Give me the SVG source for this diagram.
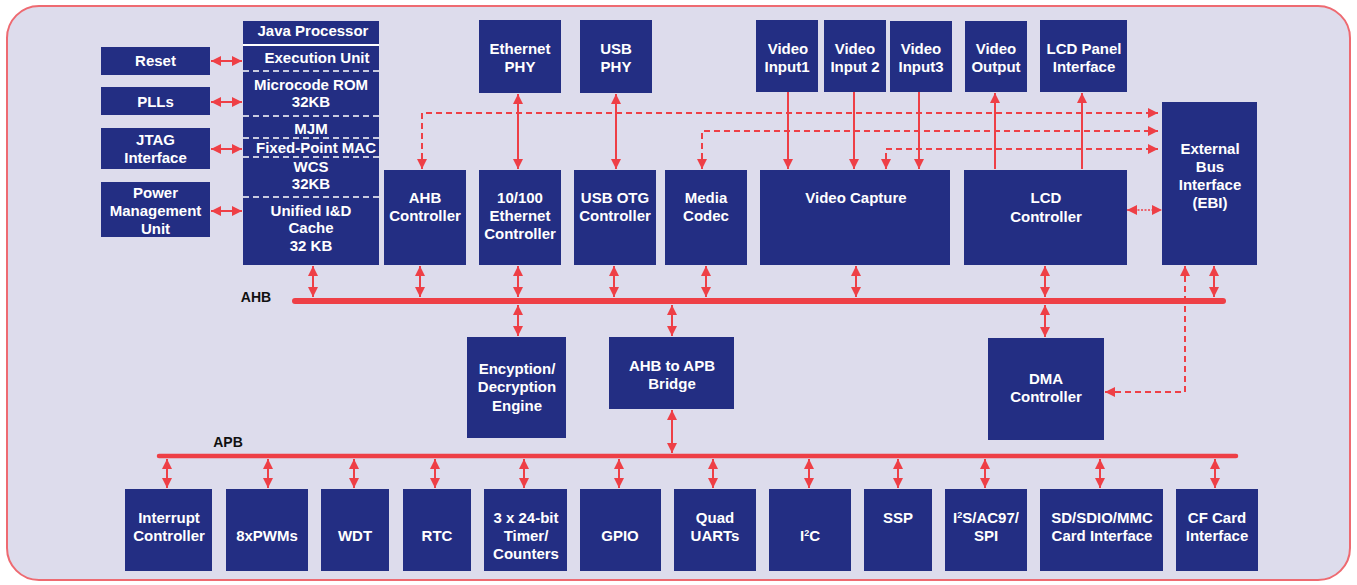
<svg xmlns="http://www.w3.org/2000/svg" width="1357" height="585" viewBox="0 0 1357 585">
<style>
.box{fill:#232e83}
.t{font-family:"Liberation Sans",Arial,sans-serif;font-weight:bold;font-size:15px;fill:#ffffff;text-anchor:middle}
.lbl{font-family:"Liberation Sans",Arial,sans-serif;font-weight:bold;font-size:14px;fill:#111111;text-anchor:middle}
.c{stroke:#ee3f46;stroke-width:2;fill:none}
.d{stroke:#ee3f46;stroke-width:2;fill:none;stroke-dasharray:6 4}
.dot{stroke:#ee3f46;stroke-width:1.5;fill:none;stroke-dasharray:2 1.5}
.bus{stroke:#ee3f46;fill:none;stroke-linecap:round}
.sep{stroke:#ffffff;stroke-width:1.5;stroke-dasharray:6 4}
</style>
<defs>
<marker id="ah" viewBox="0 0 10 10" refX="10" refY="5" markerWidth="10" markerHeight="10" markerUnits="userSpaceOnUse" orient="auto-start-reverse">
<path d="M0,0 L10,5 L0,10 z" fill="#ee3f46"/>
</marker>
</defs>
<rect x="0" y="0" width="1357" height="585" fill="#ffffff"/>
<rect x="7" y="6" width="1343" height="574" rx="32" fill="#dddcec" stroke="#ee6a71" stroke-width="2"/>

<g id="connectors">
<g marker-start="url(#ah)" marker-end="url(#ah)">
<line class="c" x1="211" y1="61" x2="242" y2="61"/>
<line class="c" x1="211" y1="102" x2="242" y2="102"/>
<line class="c" x1="211" y1="149" x2="242" y2="149"/>
<line class="c" x1="211" y1="211" x2="242" y2="211"/>
<line class="c" x1="518" y1="94" x2="518" y2="169"/>
<line class="c" x1="616" y1="94" x2="616" y2="169"/>
<path class="d" d="M422,169 V113 H1158"/>
<path class="d" d="M702,169 V131 H1158"/>
<path class="d" d="M886,169 V149 H1158"/>
<path class="dot" d="M1127,210 H1162"/>
<path class="d" d="M1185,266 V392 H1105"/>
<line class="c" x1="313" y1="266" x2="313" y2="297"/>
<line class="c" x1="420" y1="266" x2="420" y2="297"/>
<line class="c" x1="518" y1="266" x2="518" y2="297"/>
<line class="c" x1="614" y1="266" x2="614" y2="297"/>
<line class="c" x1="706" y1="266" x2="706" y2="297"/>
<line class="c" x1="856" y1="266" x2="856" y2="297"/>
<line class="c" x1="1045" y1="266" x2="1045" y2="297"/>
<line class="c" x1="1214" y1="266" x2="1214" y2="297"/>
<line class="c" x1="518" y1="305" x2="518" y2="336"/>
<line class="c" x1="672" y1="305" x2="672" y2="336"/>
<line class="c" x1="1045" y1="305" x2="1045" y2="337"/>
<line class="c" x1="672" y1="410" x2="672" y2="453"/>
<line class="c" x1="167" y1="459" x2="167" y2="488"/>
<line class="c" x1="268" y1="459" x2="268" y2="488"/>
<line class="c" x1="354" y1="459" x2="354" y2="488"/>
<line class="c" x1="435" y1="459" x2="435" y2="488"/>
<line class="c" x1="524" y1="459" x2="524" y2="488"/>
<line class="c" x1="619" y1="459" x2="619" y2="488"/>
<line class="c" x1="713" y1="459" x2="713" y2="488"/>
<line class="c" x1="809" y1="459" x2="809" y2="488"/>
<line class="c" x1="898" y1="459" x2="898" y2="488"/>
<line class="c" x1="985" y1="459" x2="985" y2="488"/>
<line class="c" x1="1100" y1="459" x2="1100" y2="488"/>
<line class="c" x1="1215" y1="459" x2="1215" y2="488"/>
</g>
<g marker-end="url(#ah)">
<line class="c" x1="788" y1="92" x2="788" y2="169"/>
<line class="c" x1="854" y1="92" x2="854" y2="169"/>
<line class="c" x1="919" y1="92" x2="919" y2="169"/>
<line class="c" x1="995" y1="169" x2="995" y2="93"/>
<line class="c" x1="1082" y1="169" x2="1082" y2="93"/>
</g>
<line class="bus" x1="295" y1="301" x2="1223" y2="301" stroke-width="6"/>
<line class="bus" x1="159" y1="456" x2="1236" y2="456" stroke-width="4.5"/>
<text class="lbl" x="256" y="302">AHB</text>
<text class="lbl" x="228" y="447">APB</text>
</g>

<g id="reset"><rect class="box" x="101" y="47" width="109" height="28"/><text class="t" x="155.5" y="66">Reset</text></g>
<g id="plls"><rect class="box" x="101" y="87" width="109" height="28"/><text class="t" x="155.5" y="107">PLLs</text></g>
<g id="jtag"><rect class="box" x="101" y="128" width="109" height="41"/><text class="t" x="155.5" y="145">JTAG</text><text class="t" x="155.5" y="163">Interface</text></g>
<g id="pmu"><rect class="box" x="101" y="182" width="109" height="55"/><text class="t" x="155.5" y="198">Power</text><text class="t" x="155.5" y="216">Management</text><text class="t" x="155.5" y="234">Unit</text></g>

<g id="java">
<rect class="box" x="243" y="21" width="136" height="244"/>
<line x1="243" y1="45" x2="379" y2="45" stroke="#ffffff" stroke-width="2"/>
<line class="sep" x1="243" y1="71" x2="379" y2="71"/>
<line class="sep" x1="243" y1="116" x2="379" y2="116"/>
<line class="sep" x1="243" y1="138" x2="379" y2="138"/>
<line class="sep" x1="243" y1="157" x2="379" y2="157"/>
<line class="sep" x1="243" y1="197" x2="379" y2="197"/>
<text class="t" x="313" y="36">Java Processor</text>
<text class="t" x="317" y="63">Execution Unit</text>
<text class="t" x="311" y="90">Microcode ROM</text>
<text class="t" x="311" y="107">32KB</text>
<text class="t" x="311" y="134">MJM</text>
<text class="t" x="316" y="153">Fixed-Point MAC</text>
<text class="t" x="311" y="172">WCS</text>
<text class="t" x="311" y="189">32KB</text>
<text class="t" x="311" y="216">Unified I&amp;D</text>
<text class="t" x="311" y="233">Cache</text>
<text class="t" x="311" y="251">32 KB</text>
</g>

<g id="eth-phy"><rect class="box" x="479" y="20" width="82" height="73"/><text class="t" x="520" y="54">Ethernet</text><text class="t" x="520" y="72">PHY</text></g>
<g id="usb-phy"><rect class="box" x="580" y="20" width="72" height="73"/><text class="t" x="616" y="54">USB</text><text class="t" x="616" y="72">PHY</text></g>
<g id="vin1"><rect class="box" x="756" y="20" width="62" height="72"/><text class="t" x="788" y="54">Video</text><text class="t" x="787" y="72">Input1</text></g>
<g id="vin2"><rect class="box" x="824" y="20" width="62" height="72"/><text class="t" x="855" y="54">Video</text><text class="t" x="855" y="72">Input 2</text></g>
<g id="vin3"><rect class="box" x="890" y="21" width="62" height="71"/><text class="t" x="921" y="54">Video</text><text class="t" x="921" y="72">Input3</text></g>
<g id="vout"><rect class="box" x="965" y="21" width="62" height="71"/><text class="t" x="996" y="54">Video</text><text class="t" x="996" y="72">Output</text></g>
<g id="lcd-panel"><rect class="box" x="1040" y="20" width="87" height="72"/><text class="t" x="1084" y="54">LCD Panel</text><text class="t" x="1084" y="72">Interface</text></g>

<g id="ahb-ctrl"><rect class="box" x="384" y="170" width="82" height="95"/><text class="t" x="425" y="203">AHB</text><text class="t" x="425" y="221">Controller</text></g>
<g id="eth-ctrl"><rect class="box" x="479" y="170" width="82" height="95"/><text class="t" x="520" y="203">10/100</text><text class="t" x="520" y="221">Ethernet</text><text class="t" x="520" y="239">Controller</text></g>
<g id="usb-otg"><rect class="box" x="574" y="170" width="82" height="95"/><text class="t" x="615" y="203">USB OTG</text><text class="t" x="615" y="221">Controller</text></g>
<g id="media"><rect class="box" x="665" y="170" width="82" height="95"/><text class="t" x="706" y="203">Media</text><text class="t" x="706" y="221">Codec</text></g>
<g id="vcap"><rect class="box" x="760" y="170" width="190" height="95"/><text class="t" x="856" y="203">Video Capture</text></g>
<g id="lcd-ctrl"><rect class="box" x="964" y="170" width="163" height="95"/><text class="t" x="1046" y="203">LCD</text><text class="t" x="1046" y="222">Controller</text></g>
<g id="ebi"><rect class="box" x="1162" y="102" width="95" height="163"/><text class="t" x="1210" y="154">External</text><text class="t" x="1210" y="172">Bus</text><text class="t" x="1210" y="190">Interface</text><text class="t" x="1210" y="208">(EBI)</text></g>

<g id="crypto"><rect class="box" x="467" y="337" width="99" height="101"/><text class="t" x="517" y="374">Encyption/</text><text class="t" x="517" y="392">Decryption</text><text class="t" x="517" y="411">Engine</text></g>
<g id="bridge"><rect class="box" x="609" y="337" width="125" height="72"/><text class="t" x="672" y="371">AHB to APB</text><text class="t" x="672" y="389">Bridge</text></g>
<g id="dma"><rect class="box" x="988" y="338" width="116" height="102"/><text class="t" x="1046" y="384">DMA</text><text class="t" x="1046" y="402">Controller</text></g>

<g id="intc"><rect class="box" x="125" y="489" width="87" height="82"/><text class="t" x="169" y="523">Interrupt</text><text class="t" x="169" y="541">Controller</text></g>
<g id="pwm"><rect class="box" x="226" y="489" width="82" height="82"/><text class="t" x="267" y="541">8xPWMs</text></g>
<g id="wdt"><rect class="box" x="321" y="489" width="68" height="82"/><text class="t" x="355" y="541">WDT</text></g>
<g id="rtc"><rect class="box" x="403" y="489" width="68" height="82"/><text class="t" x="437" y="541">RTC</text></g>
<g id="timer"><rect class="box" x="484" y="489" width="83" height="82"/><text class="t" x="526" y="523">3 x 24-bit</text><text class="t" x="526" y="541">Timer/</text><text class="t" x="526" y="559">Counters</text></g>
<g id="gpio"><rect class="box" x="580" y="489" width="81" height="82"/><text class="t" x="620" y="541">GPIO</text></g>
<g id="uart"><rect class="box" x="674" y="489" width="82" height="82"/><text class="t" x="715" y="523">Quad</text><text class="t" x="715" y="541">UARTs</text></g>
<g id="i2c"><rect class="box" x="769" y="489" width="82" height="82"/><text class="t" x="810" y="541">I<tspan font-size="9" dy="-5">2</tspan><tspan dy="5">C</tspan></text></g>
<g id="ssp"><rect class="box" x="864" y="489" width="68" height="82"/><text class="t" x="898" y="523">SSP</text></g>
<g id="i2s"><rect class="box" x="945" y="489" width="82" height="82"/><text class="t" x="986" y="523">I<tspan font-size="9" dy="-5">2</tspan><tspan dy="5">S/AC97/</tspan></text><text class="t" x="986" y="541">SPI</text></g>
<g id="sd"><rect class="box" x="1040" y="489" width="123" height="82"/><text class="t" x="1102" y="523">SD/SDIO/MMC</text><text class="t" x="1102" y="541">Card Interface</text></g>
<g id="cf"><rect class="box" x="1176" y="489" width="82" height="82"/><text class="t" x="1217" y="523">CF Card</text><text class="t" x="1217" y="541">Interface</text></g>
</svg>
